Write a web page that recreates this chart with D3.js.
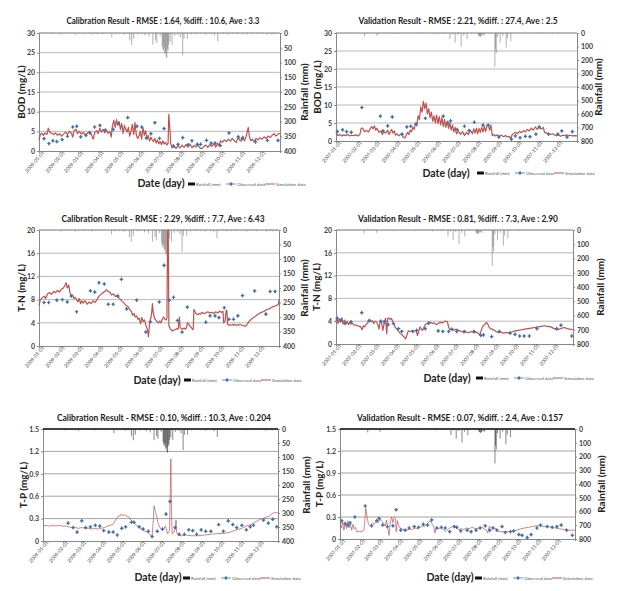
<!DOCTYPE html>
<html><head><meta charset="utf-8">
<script src="https://cdn.jsdelivr.net/npm/d3@7"></script>
<style>body{margin:0;background:#fff}svg{display:block}</style>
</head><body><svg id="c" width="622" height="591"></svg>
<script>
// ---------- DATA (day of year, value) ----------
const rainCal = [[5,3],[12,2],[18,4],[24,2],[33,5],[38,3],[47,2],[55,6],[60,3],[68,4],[75,2],[80,5],[88,3],[96,4],[101,2],[110,15],[115,5],[122,3],[128,6],[132,4],[137,25],[140,40],[143,20],[150,5],[155,3],[160,8],[166,12],[172,40],[176,25],[178,35],[183,10],[186,45],[187,55],[188,60],[189,50],[190,70],[191,65],[192,80],[193,85],[194,55],[195,60],[196,40],[198,30],[201,40],[205,10],[210,6],[214,15],[217,75],[219,20],[224,20],[230,5],[238,4],[245,3],[252,6],[260,4],[265,8],[270,28],[278,3],[285,5],[292,3],[300,4],[308,2],[315,5],[322,3],[330,4],[338,2],[345,6],[350,4],[352,3],[355,5],[360,3]];
const rainVal = [[3,4],[8,3],[15,5],[22,2],[30,4],[36,3],[43,25],[47,6],[52,4],[56,3],[62,20],[64,5],[70,3],[77,6],[84,4],[88,3],[90,8],[96,3],[103,5],[110,6],[116,4],[122,8],[128,5],[135,3],[141,6],[148,10],[155,5],[162,8],[166,6],[172,45],[176,10],[180,70],[184,15],[189,100],[193,20],[198,45],[205,6],[215,18],[216,22],[217,25],[218,30],[219,22],[220,18],[222,15],[224,20],[230,4],[234,5],[240,250],[241,120],[242,150],[244,30],[248,70],[252,20],[257,110],[259,40],[264,60],[268,5],[275,3],[282,6],[290,4],[298,3],[305,5],[312,4],[320,3],[328,6],[335,4],[342,3],[350,5],[358,3]];

const simBodCal = [[0,2.8],[2,4.2],[4,4.5],[7,4.0],[9,4.6],[12,4.2],[14,5.8],[16,4.8],[19,4.5],[22,4.2],[25,4.6],[28,4.0],[31,4.4],[34,3.8],[37,4.3],[40,4.8],[43,4.2],[46,5.0],[49,4.5],[51,3.5],[53,5.2],[56,5.5],[58,4.4],[61,5.0],[64,4.3],[67,4.8],[70,4.0],[73,4.5],[76,5.0],[79,4.2],[82,3.0],[84,4.6],[87,5.2],[89,4.4],[92,5.8],[94,4.8],[97,5.5],[99,4.6],[102,5.3],[104,4.5],[107,5.0],[109,3.5],[111,6.5],[113,7.8],[115,6.0],[117,8.0],[119,6.5],[121,7.5],[123,5.5],[125,7.0],[127,4.5],[129,6.5],[131,5.5],[133,4.8],[135,6.0],[137,3.8],[139,5.0],[141,6.8],[143,4.2],[145,7.2],[147,4.0],[149,3.2],[151,3.8],[153,5.0],[155,3.0],[157,6.0],[159,4.0],[161,5.2],[163,3.0],[165,4.0],[167,2.5],[169,3.5],[171,2.8],[173,2.4],[175,3.2],[177,2.0],[179,2.8],[181,1.8],[183,2.4],[185,1.6],[187,2.6],[189,1.8],[191,2.2],[193,1.5],[195,2.0],[196,9.3],[198,5.0],[199,1.8],[201,0.8],[204,1.2],[207,0.7],[210,1.3],[213,0.8],[216,1.5],[219,0.9],[222,1.6],[225,1.0],[228,1.8],[231,0.8],[234,1.4],[237,1.0],[240,1.6],[243,0.8],[246,0.6],[249,1.2],[252,1.5],[255,0.9],[258,1.6],[261,1.2],[264,1.8],[267,1.0],[270,2.0],[272,1.2],[274,2.6],[277,2.2],[280,2.8],[283,2.4],[286,3.0],[289,2.5],[292,3.2],[295,2.6],[298,2.2],[301,3.6],[303,2.8],[305,2.5],[308,3.8],[310,2.6],[312,3.2],[314,4.5],[316,6.0],[318,3.5],[320,2.6],[322,3.0],[325,2.4],[328,3.2],[331,2.8],[334,3.4],[337,3.0],[340,3.6],[343,3.2],[346,3.8],[349,3.4],[352,4.0],[355,4.4],[358,3.8],[361,4.3],[364,4.5]];
const obsBodCal = [[7.6,3.15],[15,1.9],[21,2.6],[27,2.4],[35,2.9],[43,3.75],[51,6.1],[57,6.3],[63,3.6],[71,4.0],[77,4.6],[84,6.1],[92,6.5],[100,5.3],[112,5.5],[120,7.0],[134,8.5],[148,6.3],[155,6.1],[162,3.3],[169,4.4],[175,7.2],[182,3.2],[189,5.7],[203,1.3],[210,1.7],[217,3.4],[225,1.6],[231,2.6],[239,1.7],[244,1.7],[253,2.7],[260,2.0],[266,2.0],[274,1.4],[287,4.6],[301,3.6],[307,3.2],[327,2.3],[345,2.7],[361,2.7]];

const simBodVal = [[0,2.0],[3,1.5],[6,1.8],[9,1.4],[12,1.7],[15,1.5],[18,1.8],[21,1.4],[24,1.6],[27,1.5],[30,1.7],[33,1.4],[36,1.8],[38,3.5],[40,3.6],[43,2.6],[46,2.9],[49,2.5],[52,3.5],[54,4.0],[56,3.4],[58,4.2],[60,3.0],[62,3.5],[65,2.4],[68,2.8],[70,1.8],[72,2.6],[75,2.2],[78,3.0],[80,1.8],[82,2.6],[84,3.2],[86,2.2],[88,2.8],[90,1.6],[92,2.0],[95,1.4],[98,2.0],[101,1.2],[104,0.8],[106,1.6],[108,2.4],[110,1.8],[112,3.0],[114,2.6],[116,3.8],[118,3.2],[120,5.0],[122,4.2],[124,7.0],[126,6.0],[128,9.5],[130,8.0],[132,11.0],[134,9.0],[136,10.5],[138,7.5],[140,9.0],[142,6.5],[144,8.0],[146,5.5],[148,7.0],[150,5.0],[152,7.2],[154,4.8],[156,6.8],[158,4.5],[160,6.5],[162,4.0],[164,6.0],[166,3.8],[168,5.5],[170,3.5],[172,5.0],[174,3.0],[176,4.5],[178,2.5],[180,3.8],[182,2.0],[185,2.8],[188,1.8],[191,2.6],[194,1.5],[197,2.4],[200,1.8],[203,3.0],[206,2.0],[208,3.4],[210,2.2],[212,3.6],[214,2.0],[216,3.5],[218,2.4],[220,3.8],[222,2.5],[224,4.0],[226,2.6],[228,4.3],[230,4.6],[232,3.0],[234,4.4],[236,1.5],[238,1.8],[241,1.4],[244,1.7],[247,1.3],[250,1.6],[253,1.2],[256,1.5],[259,1.1],[262,1.3],[264,0.4],[266,1.8],[268,2.0],[271,2.4],[274,2.0],[277,2.7],[280,2.3],[283,2.9],[286,2.5],[289,3.2],[292,2.8],[295,3.6],[298,3.0],[301,3.9],[304,3.2],[307,4.0],[310,3.3],[313,3.8],[315,2.4],[318,2.2],[321,2.0],[324,1.8],[327,2.0],[330,1.7],[333,1.5],[336,1.7],[339,1.3],[342,1.6],[345,1.5],[348,1.7],[351,1.5],[354,1.6],[357,1.4],[360,1.5],[364,1.4]];
const obsBodVal = [[2,2.6],[10,3.1],[16,2.6],[23,2.4],[39,9.3],[67,6.9],[71,2.8],[78,4.2],[85,6.7],[100,1.9],[107,3.9],[113,4.1],[121,4.7],[135,6.3],[162,6.9],[169,5.0],[173,5.6],[183,3.2],[194,4.1],[201,2.9],[209,5.2],[222,4.4],[230,4.4],[246,1.1],[265,0.5],[271,1.4],[278,0.9],[286,1.3],[293,1.2],[302,1.9],[307,3.9],[321,1.9],[335,1.9],[341,2.8],[349,1.1],[357,2.6]];

const simTnCal = [[0,7.0],[2,8.0],[5,8.3],[8,8.6],[10,8.2],[13,9.0],[16,9.2],[19,8.9],[22,9.4],[25,9.2],[28,9.6],[31,9.3],[34,9.8],[37,10.0],[39,10.4],[41,10.9],[43,10.0],[45,10.5],[47,9.2],[49,8.6],[51,8.8],[53,8.2],[55,8.4],[57,8.0],[59,7.6],[61,8.2],[63,7.3],[65,7.8],[67,7.4],[70,7.8],[73,7.2],[76,7.6],[79,7.3],[82,7.8],[85,7.5],[88,8.0],[91,8.6],[94,8.9],[97,9.2],[100,9.4],[102,9.7],[105,9.4],[108,9.2],[110,8.8],[113,9.0],[116,8.5],[118,8.7],[121,8.3],[124,8.0],[126,7.7],[129,7.4],[132,7.0],[135,6.8],[138,6.2],[140,6.0],[142,5.3],[144,5.6],[146,5.0],[148,5.2],[150,4.6],[152,4.8],[154,3.8],[156,4.9],[158,4.2],[160,4.5],[162,3.6],[164,3.0],[165,2.5],[166,1.6],[167,2.8],[168,4.2],[170,5.0],[171,5.8],[172,7.3],[173,6.0],[175,4.8],[177,4.5],[179,4.2],[181,4.0],[183,4.3],[185,4.0],[187,4.6],[189,5.0],[191,4.6],[193,4.5],[194,4.8],[195,19.5],[196,20],[197,3.5],[199,3.0],[201,2.7],[203,2.6],[205,2.8],[207,2.8],[209,3.0],[211,2.9],[213,5.0],[214,3.2],[216,3.0],[218,2.9],[220,3.1],[222,2.9],[224,3.2],[225,4.0],[227,3.8],[229,3.4],[231,3.2],[233,2.8],[234,3.0],[235,6.3],[237,5.8],[239,5.5],[241,5.4],[243,5.6],[245,5.5],[247,5.8],[250,5.6],[253,5.7],[256,5.9],[259,5.7],[262,5.8],[265,5.6],[268,5.9],[271,5.7],[274,6.0],[277,5.8],[279,6.0],[280,4.0],[282,4.2],[284,6.2],[285,6.0],[286,3.7],[290,3.6],[295,3.7],[300,3.6],[305,3.7],[310,3.5],[313,3.4],[316,3.8],[319,4.3],[322,4.6],[325,4.9],[328,5.1],[331,5.4],[334,5.6],[337,5.8],[340,5.9],[343,6.1],[346,6.3],[349,6.4],[352,6.6],[355,6.8],[358,6.9],[361,7.0],[363,7.2],[364,8.0]];
const obsTnCal = [[7.6,7.5],[14.7,7.5],[27,7.9],[35.5,8.0],[43,7.6],[49,8.6],[57,5.9],[78,9.5],[84.6,9.3],[91,10.9],[99,10.7],[105,7.2],[112.5,7.2],[119.6,8.6],[125,11.5],[133,6.4],[148,7.9],[162,2.4],[169,4.2],[182.5,7.6],[189.6,13.9],[197.7,7.9],[204,8.4],[210,4.4],[217,2.4],[225,6.7],[253,4.1],[259.5,5.2],[267,5.2],[273,4.9],[281,6.6],[288,4.6],[295,4.6],[301.6,5.2],[308.7,8.7],[327,9.5],[344,5.5],[350.7,9.4],[358,9.4]];

const simTnVal = [[0,4.0],[1,4.5],[3,3.6],[5,4.4],[7,3.8],[9,4.6],[11,3.5],[13,4.2],[15,3.6],[17,4.0],[19,3.4],[21,3.8],[23,3.5],[25,3.7],[27,3.4],[30,3.3],[33,3.2],[36,3.1],[38,3.0],[40,2.5],[42,3.2],[44,3.0],[46,3.4],[48,3.6],[50,4.1],[52,4.3],[54,3.9],[56,4.1],[58,3.6],[60,4.0],[62,3.9],[64,3.5],[66,2.6],[68,4.0],[70,3.8],[72,2.4],[74,3.6],[76,4.5],[78,1.8],[79,4.4],[81,4.6],[83,4.3],[85,4.5],[87,4.0],[89,3.6],[91,2.9],[93,2.7],[95,2.4],[97,2.1],[99,1.8],[101,1.7],[103,1.4],[105,1.2],[107,0.9],[109,1.6],[111,2.3],[114,2.2],[117,2.3],[120,2.2],[123,2.4],[125,1.5],[127,2.2],[129,3.0],[131,2.6],[133,2.4],[135,2.9],[137,3.4],[139,3.6],[142,3.5],[145,3.8],[148,3.6],[151,3.7],[154,3.4],[157,3.6],[160,3.8],[163,3.7],[166,3.9],[169,4.0],[171,3.9],[173,3.0],[175,2.5],[178,2.6],[181,2.4],[184,2.6],[187,2.5],[190,2.3],[193,2.2],[196,2.0],[200,2.1],[204,2.0],[208,2.2],[212,2.0],[216,2.1],[219,1.8],[221,1.6],[223,2.4],[225,3.0],[228,3.4],[231,3.8],[233,3.5],[235,3.0],[237,2.7],[240,2.6],[243,2.4],[246,2.2],[249,2.0],[253,2.1],[257,1.9],[261,2.0],[265,2.0],[270,2.1],[275,2.3],[280,2.4],[285,2.5],[290,2.6],[295,2.7],[300,2.8],[305,2.9],[310,3.0],[315,3.1],[320,3.2],[325,3.1],[330,3.0],[335,2.7],[339,2.5],[343,2.6],[347,2.8],[351,2.9],[355,2.7],[359,2.6],[364,2.5]];
const obsTnVal = [[2,4.5],[7.7,4.2],[14,3.6],[23,3.9],[39.5,5.5],[51,4.1],[68.7,4.0],[74,3.9],[80,3.4],[88,3.6],[96,2.7],[101,2.2],[118,2.2],[124,2.4],[137,2.7],[142.5,3.7],[157,2.3],[164,2.2],[173,2.2],[178,2.6],[185.5,2.2],[197,2.2],[212,2.2],[222.5,1.5],[226.5,1.6],[239,1.3],[251,2.2],[267.5,1.9],[275,1.7],[282,1.4],[289,1.4],[297,1.4],[308.6,2.7],[339,2.7],[345.5,3.3],[362,1.4]];

const simTpCal = [[0,0.20],[5,0.21],[10,0.20],[15,0.21],[20,0.20],[25,0.21],[30,0.20],[36,0.20],[40,0.19],[45,0.18],[50,0.18],[55,0.17],[60,0.18],[65,0.17],[70,0.17],[75,0.16],[80,0.17],[85,0.16],[90,0.17],[95,0.18],[100,0.20],[104,0.21],[108,0.22],[111,0.26],[114,0.30],[117,0.34],[119,0.33],[121,0.36],[124,0.34],[127,0.35],[130,0.33],[133,0.32],[136,0.28],[139,0.26],[142,0.23],[146,0.20],[150,0.18],[154,0.15],[158,0.13],[162,0.12],[166,0.08],[169,0.06],[171,0.30],[172,0.47],[174,0.40],[176,0.33],[178,0.25],[181,0.18],[184,0.16],[187,0.15],[189,0.20],[191,0.17],[193,0.10],[196,0.14],[197,0.6],[198,1.10],[199,0.4],[200,0.10],[203,0.12],[205,0.16],[206,0.28],[207,0.12],[209,0.08],[215,0.07],[220,0.08],[230,0.07],[240,0.07],[250,0.08],[260,0.09],[270,0.10],[280,0.10],[290,0.12],[300,0.15],[308,0.17],[315,0.20],[322,0.22],[328,0.25],[334,0.28],[340,0.30],[346,0.32],[350,0.33],[354,0.36],[358,0.38],[362,0.38],[365,0.37]];
const obsTpCal = [[39,0.24],[46.6,0.18],[52.8,0.12],[60,0.27],[66,0.18],[73.5,0.19],[81,0.21],[88,0.2],[94,0.14],[102,0.12],[108.7,0.12],[115,0.08],[122,0.17],[128,0.19],[137,0.25],[141,0.25],[149,0.19],[155,0.16],[163,0.13],[169,0.06],[177,0.13],[185,0.16],[190.5,0.36],[196.7,0.53],[204.5,0.18],[211,0.09],[219,0.09],[225.7,0.15],[232,0.14],[238,0.09],[245,0.15],[252,0.13],[260,0.13],[272,0.22],[279.5,0.13],[287,0.27],[294,0.22],[300,0.18],[308,0.21],[315,0.15],[321,0.19],[326,0.21],[341.6,0.28],[349,0.24],[356,0.29],[362,0.19]];

const simTpVal = [[0,0.22],[2,0.15],[4,0.24],[6,0.12],[8,0.22],[10,0.14],[12,0.25],[14,0.15],[16,0.22],[18,0.12],[20,0.20],[22,0.14],[24,0.16],[26,0.10],[30,0.10],[34,0.10],[37,0.12],[38,0.20],[40,0.42],[42,0.30],[44,0.20],[47,0.18],[50,0.22],[53,0.20],[56,0.25],[59,0.22],[62,0.28],[64,0.25],[67,0.22],[70,0.18],[72,0.26],[74,0.15],[76,0.05],[78,0.25],[80,0.30],[82,0.22],[84,0.30],[86,0.28],[87,0.10],[89,0.25],[91,0.18],[93,0.15],[96,0.14],[100,0.12],[104,0.12],[108,0.14],[112,0.13],[116,0.15],[120,0.14],[124,0.16],[128,0.18],[131,0.17],[134,0.20],[137,0.22],[140,0.25],[143,0.20],[145,0.18],[147,0.08],[149,0.15],[152,0.14],[156,0.15],[160,0.13],[164,0.10],[168,0.14],[172,0.16],[176,0.18],[180,0.15],[184,0.13],[188,0.14],[192,0.13],[196,0.15],[200,0.14],[205,0.16],[210,0.14],[215,0.15],[220,0.16],[224,0.13],[227,0.12],[229,0.08],[231,0.17],[234,0.16],[238,0.15],[242,0.14],[246,0.10],[250,0.10],[256,0.10],[262,0.10],[268,0.11],[274,0.12],[280,0.14],[286,0.15],[292,0.16],[298,0.17],[304,0.18],[310,0.18],[316,0.17],[322,0.17],[328,0.16],[334,0.15],[340,0.14],[346,0.13],[352,0.12],[358,0.12],[364,0.12]];
const obsTpVal = [[2.6,0.25],[7.8,0.21],[12,0.19],[15.5,0.22],[23,0.3],[39,0.45],[49,0.18],[57,0.25],[60.5,0.28],[66,0.19],[73.5,0.17],[82,0.18],[87,0.4],[94,0.12],[101,0.12],[107,0.15],[115,0.17],[121.6,0.16],[129,0.2],[135.6,0.19],[142,0.26],[150,0.15],[157,0.16],[163,0.15],[170,0.1],[177,0.17],[181,0.16],[187,0.11],[197,0.12],[203,0.1],[210.7,0.12],[217,0.15],[225,0.18],[232,0.12],[237,0.15],[243,0.12],[251,0.17],[256,0.09],[264,0.1],[269,0.11],[277,0.06],[282,0.05],[290,0.02],[296,0.06],[305,0.15],[310.6,0.19],[321,0.17],[328.7,0.16],[336,0.17],[342.6,0.19],[351,0.12],[360,0.05]];

const ticksBOD = [0,5,10,15,20,25,30];
const ticksTN = [0,4,8,12,16,20];
const ticksTP = [0,0.3,0.6,0.9,1.2,1.5];
const ticksRainCal = [0,50,100,150,200,250,300,350,400];
const ticksRainVal = [0,100,200,300,400,500,600,700,800];
const monthLabelsCal = ["2009-01-01","2009-02-01","2009-03-01","2009-04-01","2009-05-01","2009-06-01","2009-07-01","2009-08-01","2009-09-01","2009-10-01","2009-11-01","2009-12-01"];
const monthLabelsVal = ["2007-01-01","2007-02-01","2007-03-01","2007-04-01","2007-05-01","2007-06-01","2007-07-01","2007-08-01","2007-09-01","2007-10-01","2007-11-01","2007-12-01"];
const titles = [
 "Calibration Result - RMSE : 1.64, %diff. : 10.6, Ave : 3.3",
 "Validation Result - RMSE : 2.21, %diff. : 27.4,  Ave : 2.5",
 "Calibration Result - RMSE : 2.29, %diff. : 7.7, Ave : 6.43",
 "Validation Result - RMSE : 0.81, %diff. : 7.3, Ave : 2.90",
 "Calibration Result - RMSE : 0.10, %diff. : 10.3, Ave : 0.204",
 "Validation Result - RMSE : 0.07,  %diff. : 2.4, Ave : 0.157"];
const yLabels = ["BOD (mg/L)","BOD (mg/L)","T-N (mg/L)","T-N (mg/L)","T-P (mg/L)","T-P (mg/L)"];
const legendNames = ["Rainfall (mm)","Observed data","Simulation data"];

// ---------- LAYOUT ----------
const panels = [
 {x0:39,x1:280,y0:33,y1:151,t:[163,24,193],yl:21,rl:304,date:[161,187],leg:[188,184],sim:simBodCal,obs:obsBodCal,rain:rainCal,yt:ticksBOD,rt:ticksRainCal,ml:monthLabelsCal,tp:false},
 {x0:336,x1:577,y0:33,y1:141,t:[458,24,199],yl:317,rl:598,date:[446,177],leg:[477,173],sim:simBodVal,obs:obsBodVal,rain:rainVal,yt:ticksBOD,rt:ticksRainVal,ml:monthLabelsVal,tp:false},
 {x0:39,x1:279,y0:230,y1:346,t:[163,222,203],yl:21,rl:304,date:[157,384],leg:[184,380],sim:simTnCal,obs:obsTnCal,rain:rainCal,yt:ticksTN,rt:ticksRainCal,ml:monthLabelsCal,tp:false},
 {x0:336,x1:573,y0:230,y1:344,t:[458,222,200],yl:316,rl:600,date:[447,382],leg:[476,378],sim:simTnVal,obs:obsTnVal,rain:rainVal,yt:ticksTN,rt:ticksRainVal,ml:monthLabelsVal,tp:false},
 {x0:43,x1:278,y0:429,y1:541,t:[164,421,214],yl:23,rl:306,date:[158,581],leg:[183,578],sim:simTpCal,obs:obsTpCal,rain:rainCal,yt:ticksTP,rt:ticksRainCal,ml:monthLabelsCal,tp:true},
 {x0:340,x1:575,y0:429,y1:539,t:[460,421,206],yl:319,rl:601,date:[450,581],leg:[475,578],sim:simTpVal,obs:obsTpVal,rain:rainVal,yt:ticksTP,rt:ticksRainVal,ml:monthLabelsVal,tp:true}
];

const svg = d3.select("#c");
const FONT = "Lato, 'Open Sans', sans-serif";
const RED = "#c0504d", BLUE = "#4a7ab5";

function obsMarker(g, x, y){
  g.append("path").attr("transform",`translate(${x},${y})`).attr("d", d3.symbol(d3.symbolCross, 7)()).attr("fill", BLUE);
  g.append("path").attr("transform",`translate(${x},${y})`).attr("d", d3.symbol(d3.symbolDiamond, 4)()).attr("fill", "#3f6fae");
}

panels.forEach((p, i) => {
  const g = svg.append("g");
  const year = +p.ml[0].slice(0,4);
  const day = d => new Date(Date.UTC(year,0,1) + d*86400000);
  const x = d3.scaleUtc().domain([new Date(Date.UTC(year,0,1)), new Date(Date.UTC(year,11,31))]).range([p.x0, p.x1]);
  const yMax = p.yt[p.yt.length-1];
  const y = d3.scaleLinear().domain([0, yMax]).range([p.y1, p.y0]);
  const rMax = p.rt[p.rt.length-1];
  const r = d3.scaleLinear().domain([0, rMax]).range([p.y0, p.y1]);

  // grid
  g.append("g").selectAll("line").data(p.yt.slice(1)).join("line")
    .attr("x1",p.x0).attr("x2",p.x1).attr("y1",d=>y(d)).attr("y2",d=>y(d))
    .attr("stroke", p.tp ? "#8a8a8a" : "#a6a6a6").attr("stroke-width",0.8);

  // left axis
  const la = g.append("g").attr("transform",`translate(${p.x0},0)`)
    .call(d3.axisLeft(y).tickValues(p.yt).tickSize(2).tickPadding(2).tickFormat(d => p.tp ? (d===0?"0":d3.format(".1f")(d)) : d));
  la.select(".domain").attr("stroke","#888");
  la.selectAll(".tick line").attr("stroke","#888");
  la.selectAll("text").attr("font-family",FONT).attr("font-size",7).attr("font-weight","bold").attr("fill","#404040");

  // right axis
  const ra = g.append("g").attr("transform",`translate(${p.x1},0)`)
    .call(d3.axisRight(r).tickValues(p.rt).tickSize(2).tickPadding(2));
  ra.select(".domain").attr("stroke","#888");
  ra.selectAll(".tick line").attr("stroke","#888");
  ra.selectAll("text").attr("font-family",FONT).attr("font-size",7).attr("font-weight","bold").attr("fill","#404040");

  // bottom axis
  const months = p.ml.map(s => new Date(s + "T00:00:00Z"));
  const ba = g.append("g").attr("transform",`translate(0,${p.y1})`)
    .call(d3.axisBottom(x).tickValues(months).tickSize(2).tickFormat((d,k)=>p.ml[k]));
  ba.select(".domain").attr("stroke","#888");
  ba.selectAll(".tick line").attr("stroke","#888");
  ba.selectAll("text").attr("font-family",FONT).attr("font-size",5).attr("fill","#444")
    .attr("text-anchor","end").attr("dy",0).attr("y",5).attr("x",2).attr("transform","rotate(-50)");

  // top line
  g.append("line").attr("x1",p.x0).attr("x2",p.x1).attr("y1",p.y0).attr("y2",p.y0)
    .attr("stroke", p.tp ? "#111" : "#888").attr("stroke-width", p.tp ? 1.5 : 0.8);

  // rainfall bars
  g.append("g").selectAll("line").data(p.rain).join("line")
    .attr("x1",d=>x(day(d[0]))).attr("x2",d=>x(day(d[0])))
    .attr("y1",r(0)).attr("y2",d=>r(d[1]))
    .attr("stroke", p.tp ? "#333" : "#7a7a7a").attr("stroke-width",0.6);

  // simulation line
  g.append("path").datum(p.sim)
    .attr("d", d3.line().x(d=>x(day(d[0]))).y(d=>y(d[1])))
    .attr("fill","none").attr("stroke",RED).attr("stroke-width", p.tp ? 0.7 : 1.2).attr("stroke-linejoin","round");

  // observed
  const og = g.append("g");
  p.obs.forEach(d => obsMarker(og, x(day(d[0])), y(d[1])));

  // title
  g.append("text").attr("x",p.t[0]).attr("y",p.t[1]).attr("text-anchor","middle")
    .attr("font-family",FONT).attr("font-weight","bold").attr("font-size",10).attr("fill","#222")
    .attr("textLength",p.t[2]).attr("lengthAdjust","spacingAndGlyphs").text(titles[i]);

  // y titles
  const ym = (p.y0+p.y1)/2;
  g.append("text").attr("transform",`translate(${p.yl},${ym}) rotate(-90)`).attr("text-anchor","middle").attr("dy","0.35em")
    .attr("font-family",FONT).attr("font-weight","bold").attr("font-size",10).attr("fill","#222").text(yLabels[i]);
  g.append("text").attr("transform",`translate(${p.rl},${ym}) rotate(-90)`).attr("text-anchor","middle").attr("dy","0.35em")
    .attr("font-family",FONT).attr("font-weight","bold").attr("font-size",10).attr("fill","#222").text("Rainfall (mm)");

  // date label
  g.append("text").attr("x",p.date[0]).attr("y",p.date[1]).attr("text-anchor","middle")
    .attr("font-family",FONT).attr("font-weight","bold").attr("font-size",10.5).attr("fill","#222").text("Date (day)");

  // legend
  const lx = p.leg[0], ly = p.leg[1];
  const lg = g.append("g").attr("font-family",FONT).attr("font-size",4.4).attr("fill","#555");
  lg.append("rect").attr("x",lx).attr("y",ly-1.5).attr("width",7).attr("height",3).attr("fill","#111");
  lg.append("text").attr("x",lx+8).attr("y",ly).attr("dy","0.35em").text(legendNames[0]);
  lg.append("line").attr("x1",lx+38).attr("x2",lx+48).attr("y1",ly).attr("y2",ly).attr("stroke",BLUE).attr("stroke-width",0.8);
  obsMarker(lg, lx+43, ly);
  lg.append("text").attr("x",lx+49).attr("y",ly).attr("dy","0.35em").text(legendNames[1]);
  lg.append("line").attr("x1",lx+77).attr("x2",lx+87).attr("y1",ly).attr("y2",ly).attr("stroke",RED).attr("stroke-width",1);
  lg.append("text").attr("x",lx+88).attr("y",ly).attr("dy","0.35em").text(legendNames[2]);
});
</script></body></html>
